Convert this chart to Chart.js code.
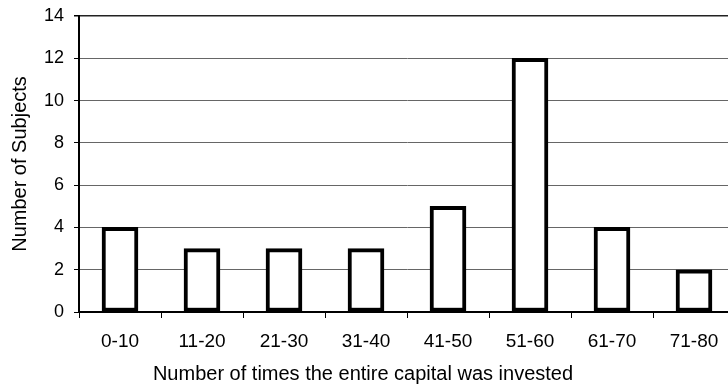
<!DOCTYPE html>
<html><head><meta charset="utf-8">
<script src="https://cdn.jsdelivr.net/npm/chart.js@4/dist/chart.umd.min.js"></script>
<style>
html,body{margin:0;padding:0;background:#fff;overflow:hidden}
#wrap{width:728px;height:389px;overflow:hidden;position:relative}
#box{width:745px;height:389px;position:absolute;left:0;top:0}
</style></head><body>
<div id="wrap"><div id="box"><canvas id="c" width="745" height="389"></canvas></div></div>
<script>
const categories = ["0-10","11-20","21-30","31-40","41-50","51-60","61-70","71-80"];
const subjects = [4,3,3,3,5,12,4,2];
const yTicks = [0,2,4,6,8,10,12,14];
const xTitle = 'Number of times the entire capital was invested';

const FONT = "'Liberation Sans', Arial, Helvetica, sans-serif";
const xTitlePlugin = {
  id:'xTitlePlugin',
  afterDraw(chart){
    const ctx = chart.ctx;
    ctx.save();
    ctx.font = "20px " + FONT;
    ctx.fillStyle = '#000';
    ctx.textAlign = 'center';
    ctx.textBaseline = 'alphabetic';
    ctx.fillText(xTitle, 363, 380);
    ctx.restore();
  }
};
new Chart(document.getElementById('c'), {
  type: 'bar',
  data: { labels: categories, datasets: [{ data: subjects, backgroundColor:'#fff', borderColor:'#000', borderWidth:4, borderSkipped:false, barThickness:36 }]},
  options: {
    responsive:false, animation:false,
    layout:{ padding:{ left:0, top:16, right:10, bottom:0 } },
    plugins:{ legend:{display:false}, tooltip:{enabled:false} },
    scales:{
      x:{
        offset:true,
        grid:{ offset:true, drawOnChartArea:false, drawTicks:true, tickLength:6, color:'#000', lineWidth:1 },
        border:{ display:true, color:'#000', width:2 },
        ticks:{ color:'#000', font:{family:FONT, size:19}, padding:12, maxRotation:0 },
        afterFit(s){ s.height = 77; s.paddingLeft = 0; s.paddingRight = 0; }
      },
      y:{
        min:0, max:14,
        afterBuildTicks(s){ s.ticks = yTicks.map(v=>({value:v})); },
        grid:{ color:(ctx)=> ctx.tick && ctx.tick.value===14 ? '#222' : '#666', lineWidth:(ctx)=> ctx.tick && ctx.tick.value===14 ? 1.5 : 1, tickLength:5, tickColor:'#000' },
        border:{ display:true, color:'#000', width:2 },
        ticks:{ color:'#000', font:{family:FONT, size:18}, padding:10 },
        title:{ display:true, text:'Number of Subjects', color:'#000', font:{family:FONT, size:20}, padding:{top:8,bottom:4} },
        afterFit(s){ s.width = 79; s.paddingTop = 0; s.paddingBottom = 0; }
      }
    }
  },
  plugins:[xTitlePlugin]
});
</script>
</body></html>
